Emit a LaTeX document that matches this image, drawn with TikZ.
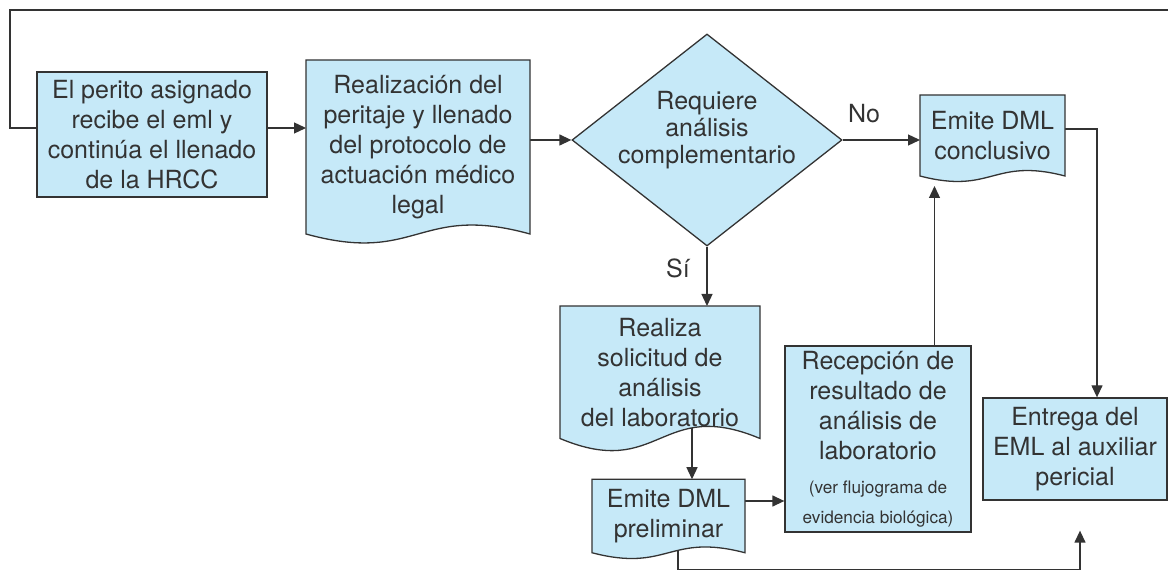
\documentclass[tikz,border=0pt]{standalone}
\usepackage{fontspec}
\setmainfont{TeX Gyre Heros}
\usepackage{xcolor}
\usepackage{tikz}
\usetikzlibrary{positioning,arrows.meta,shapes.geometric,backgrounds}
\usetikzlibrary{calc}

\definecolor{ink}{RGB}{51,51,51}
\definecolor{boxfill}{RGB}{198,233,248}

% document outline: flat top, wavy bottom
\newcommand{\docshape}[2]{%
  \filldraw[wire, fill=boxfill]
    (#1.north west) -- (#1.north east) -- (#1.south east)
    .. controls ($(#1.south)+(0,#2)$) and ($(#1.south)-(0,#2)$) .. (#1.south west) -- cycle;}

\begin{document}
\begin{tikzpicture}[x=0.5pt, y=-0.5pt, >={Triangle[length=6pt,width=5.5pt]},
  wire/.style={draw=ink, line width=0.65pt},
  txt/.style={text=ink, align=center, font=\fontsize{12.5}{15}\selectfont},
  box/.style={txt, rectangle, wire, fill=boxfill},
  doc/.style={txt, rectangle, outer sep=0pt, inner sep=2pt},
  dia/.style={diamond, wire, fill=boxfill, minimum width=135pt, minimum height=106pt, inner sep=0pt},
  flow/.style={wire, ->}]
  \useasboundingbox (0,0) rectangle (1168,571);

  \node[box, minimum width=115pt, minimum height=62.5pt] (perito) at (152,134.5)
    {El perito asignado\\recibe el eml y\\continúa el llenado\\de la HRCC};
  \node[doc, minimum width=112pt, minimum height=87pt] (peritaje) at (418,147)
    {Realización del\\peritaje y llenado\\del protocolo de\\actuación médico\\legal};
  \node[dia] (requiere) at (707,140) {};
  \node[txt, font=\fontsize{12.5}{13.5}\selectfont] (reqtxt) at (707,130)
    {Requiere\\análisis\\complementario};
  \node[doc, minimum width=72.5pt, minimum height=40.5pt] (conclusivo) at (992.5,135.5)
    {Emite DML\\conclusivo};
  \node[box, minimum width=92pt, minimum height=51pt] (entrega) at (1075,449)
    {Entrega del\\EML al auxiliar\\pericial};
  \node[doc, minimum width=100pt, minimum height=66.25pt] (realiza) at (660,372.25)
    {Realiza\\solicitud de\\análisis\\del laboratorio};
  \node[doc, minimum width=76.5pt, minimum height=36.75pt] (preliminar) at (668.5,516)
    {Emite DML\\preliminar};
  \node[box, inner sep=2pt, minimum width=93pt, minimum height=93pt] (recepcion) at (878,439)
    {Recepción de\\resultado de\\análisis de\\laboratorio\\[2pt]%
     {\fontsize{8.6}{15}\selectfont (ver flujograma de}\\%
     {\fontsize{8.6}{15}\selectfont evidencia biológica)}};
  \node[txt] (no) at (864,114) {No};
  \node[txt] (si) at (678,268) {Sí};

  \coordinate (corner) at (10,10);
  \coordinate (edge) at (1168,10);
  \coordinate (floor) at (0,569.5);
  \coordinate (tipconcl) at ([yshift=-5pt]conclusivo.south);
  \coordinate (entlow) at ([xshift=2.5pt,yshift=-15pt]entrega.south);

  \begin{scope}[on background layer]
    % connectors first, document shapes over them
    \draw[wire] ([yshift=3.25pt]perito.west) -| (corner) -- (edge);
    \draw[flow] ([yshift=3.25pt]perito.east) -- ([yshift=3.25pt]perito.east -| peritaje.west);
    \draw[flow] (peritaje.east |- requiere.west) -- (requiere.west);
    \draw[flow] (requiere.east) -- (requiere.east -| conclusivo.west);
    \draw[flow] ([yshift=3.25pt]conclusivo.east) -| ([xshift=11pt]entrega.north);
    \draw[flow] (requiere.south) -- (requiere.south |- realiza.north);
    \draw[flow] ([xshift=16pt]realiza.center) -- ([xshift=16pt]realiza.center |- preliminar.north);
    \draw[flow] ([yshift=7.5pt]preliminar.east) -- ([yshift=7.5pt]preliminar.east -| recepcion.west);
    \draw[flow] ([xshift=28.25pt]recepcion.north) -- ([xshift=28.25pt]recepcion.north |- tipconcl);
    \draw[flow] ([xshift=4.75pt]preliminar.center) |- (floor -| entlow) -- (entlow);

    \docshape{peritaje}{15.5pt}
    \docshape{conclusivo}{9.5pt}
    \docshape{realiza}{21pt}
    \docshape{preliminar}{10pt}
  \end{scope}
\end{tikzpicture}
\end{document}
